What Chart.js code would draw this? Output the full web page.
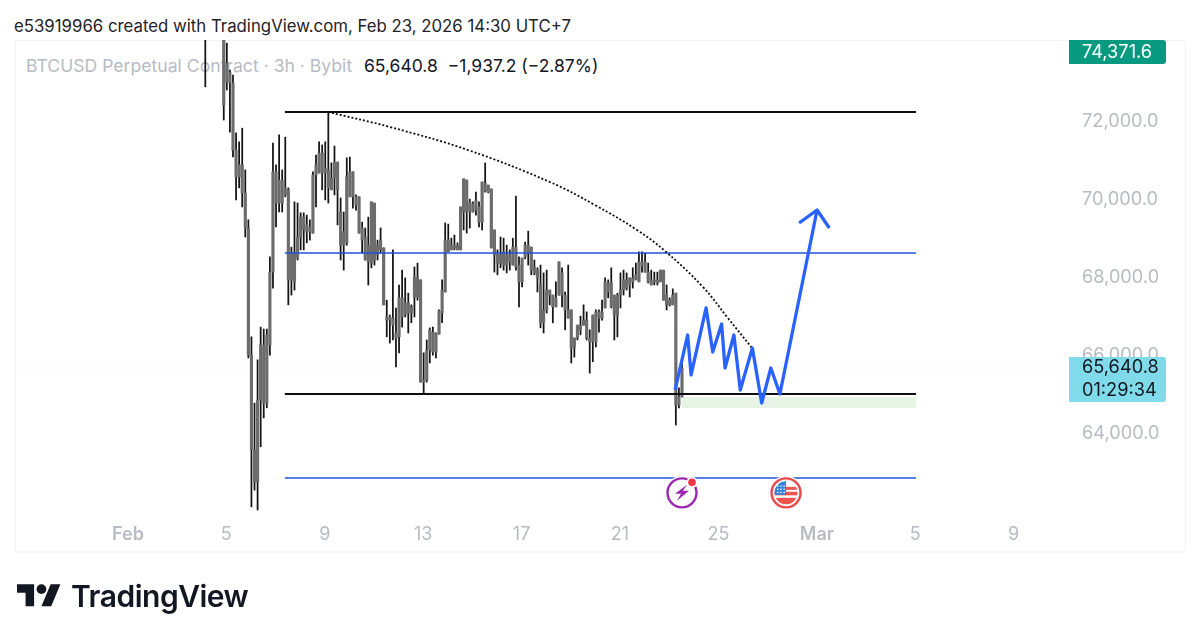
<!DOCTYPE html>
<html>
<head>
<meta charset="utf-8">
<title>BTCUSD Perpetual Contract</title>
<script src="https://cdn.jsdelivr.net/npm/chart.js@4/dist/chart.umd.min.js"></script>
<style>
    html, body { margin: 0; padding: 0; background: #fff; }
    body { width: 1200px; height: 640px; position: relative; overflow: hidden; font-family: Inter, "Liberation Sans", sans-serif; }
    canvas { position: absolute; left: 0; top: 0; }
    .txt { position: absolute; white-space: pre; line-height: 1; }
    #snapshot { left: 14px; top: 18px; font-size: 16.8px; color: #1f2226; }
    #symbol { left: 26px; top: 57px; font-size: 17.6px; color: #b8bbc2; }
    #ohlc { left: 364px; top: 57px; font-size: 17.5px; color: #131722; }
    #brand { left: 71px; top: 581px; font-size: 30px; font-weight: 600; color: #131722; letter-spacing: -0.5px; }
    #logo { position: absolute; left: 17px; top: 584px; }
</style>
</head>
<body>
<div class="txt" id="snapshot">e53919966 created with TradingView.com, Feb 23, 2026 14:30 UTC+7</div>
<div class="txt" id="symbol">BTCUSD Perpetual Contract · 3h · Bybit</div>
<div class="txt" id="ohlc">65,640.8  −1,937.2 (−2.87%)</div>
<canvas id="btcChart" width="1200" height="640"></canvas>
<svg id="logo" width="44" height="23" viewBox="0 4 36 18.5"><path fill="#131722" d="M14 22H7V11H0V4h14v18zM28 22h-8l7.5-18h8L28 22z"/><circle fill="#131722" cx="20" cy="8" r="4"/></svg>
<div class="txt" id="brand">TradingView</div>

<script>
// Bougies 3h, de la plus ancienne à la plus récente (les premières sont au-dessus du cadre)
const wickHighs = [
    75000, 75400, 75500, 75300, 75100, 74900,
    74600, 73970, 73280, 73150, 71670, 71440, 71790, 70720, 69440, 66440,
    64740, 65850, 66690, 66640, 66640, 68490, 71410, 70850, 71620, 70720,
    71560, 70260, 68740, 69900, 69870, 69620, 69620, 69560, 69440, 70670,
    71100, 71440, 71360, 71440, 72210, 70900, 71330, 70920, 70000, 69640,
    71030, 71050, 70670, 70080, 70030, 69380, 69230, 69510, 69900, 69870,
    68920, 69230, 68720, 67380, 67000, 68670, 67180, 67770, 68150, 67950,
    67560, 67260, 68230, 68330, 67900, 66030, 66360, 66670, 66690, 66540,
    67130, 67900, 69360, 69330, 68970, 69050, 68850, 69770, 70490, 70460,
    69970, 69900, 70150, 69900, 70410, 70900, 70330, 70230, 69180, 68670,
    69000, 68970, 68790, 68670, 68970, 70050, 68490, 68460, 68870, 69150,
    68740, 68410, 68210, 68280, 68080, 68150, 67640, 67510, 67850, 68360,
    68210, 67590, 68280, 67130, 66410, 66740, 66970, 67260, 67080, 66620,
    67000, 67130, 67130, 67380, 67950, 67900, 68210, 67510, 67560, 68080,
    68150, 68080, 67950, 68210, 68330, 68620, 68620, 68590, 68330, 68150,
    68100, 68100, 68150, 68150, 67770, 67440, 67670, 67560, 65130, 65770
];
const wickLows = [
    72850, 74400, 74500, 74400, 74300, 74200,
    72000, 72770, 71690, 71050, 69950, 70260, 69770, 69000, 65900, 62080,
    62510, 62000, 63620, 64360, 64620, 65970, 67690, 69260, 69640, 69640,
    70030, 67260, 67510, 67640, 68410, 68670, 68670, 68850, 68920, 69100,
    69770, 70640, 70210, 69950, 69870, 70210, 70080, 69310, 68410, 68150,
    68790, 70030, 69740, 69690, 69100, 68590, 68410, 67770, 68210, 68280,
    68410, 68590, 67260, 66440, 66280, 66360, 65670, 66030, 66690, 66950,
    66540, 66800, 66950, 67380, 65280, 65000, 65280, 65770, 65970, 65900,
    66510, 66800, 67590, 68620, 68670, 68670, 68670, 68670, 69180, 69100,
    69230, 69640, 69560, 69260, 69180, 70150, 70130, 68720, 68100, 68030,
    68210, 68150, 68080, 68150, 68280, 68150, 67210, 67720, 68440, 68280,
    68030, 68030, 67590, 66670, 66540, 67050, 67260, 66800, 67210, 67510,
    67210, 66620, 66920, 65770, 65920, 66360, 66490, 66740, 66360, 65510,
    65800, 66180, 66560, 66870, 67180, 67440, 67180, 66360, 66440, 67180,
    67510, 67640, 67460, 67690, 67900, 67850, 68100, 68100, 67820, 67770,
    67770, 67770, 67850, 67380, 67130, 67230, 67260, 64180, 64620, 64900
];
const bodyHighs = [
    74800, 75200, 75300, 75100, 74900, 74700,
    74500, 73460, 73210, 72950, 71230, 70850, 70850, 70130, 69230, 65970,
    63540, 64820, 66230, 66230, 66490, 68100, 70670, 70670, 70460, 70460,
    70260, 70210, 68590, 68590, 69000, 69510, 69510, 69310, 69260, 70590,
    70850, 71150, 71150, 70770, 70720, 70510, 70920, 70920, 69640, 69130,
    70540, 70670, 70670, 70030, 70030, 69230, 69000, 68790, 69900, 69870,
    68790, 68920, 68720, 66950, 66950, 66920, 66540, 67440, 67440, 67310,
    67310, 67210, 67970, 67970, 67900, 65330, 66100, 66620, 66560, 66540,
    67100, 67640, 68920, 68920, 68790, 68790, 68790, 69770, 70490, 70460,
    69900, 69850, 69950, 69770, 70410, 70380, 70330, 70230, 69180, 68540,
    68540, 68620, 68540, 68540, 68740, 68740, 68280, 68460, 68790, 68790,
    68740, 68230, 68150, 67770, 67130, 67640, 67640, 67510, 67440, 68360,
    68080, 67510, 67130, 67130, 66410, 66740, 66740, 66870, 66870, 66410,
    67000, 67080, 67080, 67080, 67850, 67820, 67820, 67510, 67510, 67640,
    67900, 67900, 67950, 67950, 68030, 68360, 68360, 68360, 68100, 67900,
    67900, 67900, 68150, 68150, 67510, 67380, 67510, 67560, 64900, 65640
];
const bodyLows = [
    74300, 74700, 74800, 74700, 74600, 74500,
    72380, 72970, 72950, 71230, 70540, 70540, 70130, 69230, 65970, 63540,
    62720, 62720, 64820, 64740, 64740, 66230, 68100, 69870, 69870, 69870,
    70080, 67900, 67900, 67850, 68460, 69000, 69180, 69130, 69130, 69100,
    70590, 70640, 70640, 70640, 70260, 70210, 70510, 70210, 68790, 68790,
    68850, 70030, 70030, 69820, 69100, 68920, 68410, 68360, 68330, 68410,
    68540, 68670, 67260, 66870, 66870, 66740, 66410, 66440, 66950, 67000,
    67050, 67050, 67460, 67460, 65280, 65280, 65330, 66100, 66050, 66050,
    66510, 67050, 67590, 68620, 68670, 68720, 68670, 68670, 69640, 69640,
    69640, 69640, 69690, 69380, 69380, 70180, 70150, 68720, 68540, 68330,
    68330, 68280, 68280, 68360, 68280, 68230, 67850, 67850, 68490, 68590,
    68150, 68080, 67950, 66800, 66800, 67130, 67510, 67210, 67210, 67510,
    67510, 67130, 66920, 66150, 66180, 66410, 66620, 66740, 66410, 66310,
    66310, 66310, 66920, 66920, 67180, 67590, 67210, 67000, 67000, 67510,
    67640, 67690, 67770, 67850, 67900, 67850, 68260, 68100, 67850, 67770,
    67850, 67820, 67850, 67380, 67260, 67260, 67260, 64690, 64690, 64900
];

// Jours de février (1 = 1er fév, 29 = 1er mars)
const firstCandleDay = 4.145;
const candlesPerDay = 8;

const yTickValues = [64000, 66000, 68000, 70000, 72000];
const xTickDays = [1, 5, 9, 13, 17, 21, 25, 29, 33, 37];
const xTickLabels = ['Feb', '5', '9', '13', '17', '21', '25', 'Mar', '5', '9'];

// Niveaux tracés
const levelStartDay = 7.38;
const levelEndDay = 33.03;
const blackLevels = [72205, 64974];
const blueLevels = [68590, 62820];
const zoneDays = [23.52, 33.05];
const zoneTop = 64897;
const zoneBottom = 64615;

const arcDays = [9.13, 11.65, 14.82, 18.15, 19.98, 21.69, 22.83, 24.37, 25.35, 26.37];
const arcPrices = [72205, 71820, 71230, 70410, 69820, 69180, 68640, 67720, 66950, 66150];

const pathDays = [23.24, 23.75, 23.89, 24.50, 24.77, 25.13, 25.27, 25.63, 25.89, 26.38, 26.76, 27.13, 27.50, 29.01];
const pathPrices = [65077, 66487, 65462, 67180, 66052, 66769, 65641, 66487, 65077, 66154, 64744, 65641, 64975, 69692];
const arrowDays = [28.28, 29.01, 29.51];
const arrowPrices = [69359, 69692, 69231];

const lastPrice = 65640.8;
const lastPriceLabel = '65,640.8';
const countdownLabel = '01:29:34';
const highPriceLabel = '74,371.6';
const eventDays = [23.52, 27.75];
const eventPrice = 62440;

const candleDays = wickHighs.map((_, i) => firstCandleDay + i / candlesPerDay);
const FONT = 'Inter, "Liberation Sans", sans-serif';

function levelDataset(price, color, width) {
    return {
        type: 'line',
        data: [{ x: levelStartDay, y: price }, { x: levelEndDay, y: price }],
        borderColor: color,
        borderWidth: width,
        pointRadius: 0,
        order: 3
    };
}

function pricePath(days, prices) {
    return days.map((d, i) => ({ x: d, y: prices[i] }));
}

// Cadre, étiquettes de prix et marqueurs d'événements
const overlayPlugin = {
    id: 'overlay',
    beforeDraw(chart) {
        const ctx = chart.ctx;
        ctx.save();
        ctx.strokeStyle = '#f0f3fa';
        ctx.lineWidth = 1;
        ctx.strokeRect(15.5, 40.5, 1170, 511.5);
        ctx.restore();
    },
    afterDraw(chart) {
        const ctx = chart.ctx;
        const xs = chart.scales.x;
        const ys = chart.scales.y;
        const tagLeft = chart.chartArea.right;
        const tagWidth = 97;
        ctx.save();

        // Étiquette du plus haut
        ctx.fillStyle = '#089981';
        ctx.beginPath();
        ctx.roundRect(tagLeft, 40, tagWidth, 24, [0, 3, 3, 0]);
        ctx.fill();
        ctx.font = '18.2px ' + FONT;
        ctx.textBaseline = 'middle';
        ctx.fillStyle = '#ffffff';
        ctx.fillText(highPriceLabel, tagLeft + 13, 52.5);

        // Étiquette du dernier prix
        const lastY = ys.getPixelForValue(lastPrice);
        ctx.fillStyle = '#7fdbe9';
        ctx.beginPath();
        ctx.roundRect(tagLeft, lastY - 11, tagWidth, 45, [0, 3, 3, 0]);
        ctx.fill();
        ctx.fillStyle = '#131722';
        ctx.fillText(lastPriceLabel, tagLeft + 13, lastY);
        ctx.fillText(countdownLabel, tagLeft + 13, lastY + 23);

        // Marqueur éclair
        const ey = ys.getPixelForValue(eventPrice);
        const bx = xs.getPixelForValue(eventDays[0]);
        ctx.fillStyle = '#ffffff';
        ctx.beginPath();
        ctx.arc(bx, ey, 17, 0, Math.PI * 2);
        ctx.fill();
        ctx.strokeStyle = '#9c27b0';
        ctx.lineWidth = 2.4;
        ctx.beginPath();
        ctx.arc(bx, ey, 14.5, 0, Math.PI * 2);
        ctx.stroke();
        ctx.fillStyle = '#9c27b0';
        ctx.beginPath();
        ctx.moveTo(bx + 5, ey - 8);
        ctx.lineTo(bx - 7, ey + 1);
        ctx.lineTo(bx - 1, ey + 1);
        ctx.lineTo(bx - 5, ey + 8);
        ctx.lineTo(bx + 7, ey - 2);
        ctx.lineTo(bx + 1, ey - 2);
        ctx.closePath();
        ctx.fill();
        ctx.fillStyle = '#ffffff';
        ctx.beginPath();
        ctx.arc(bx + 10, ey - 10.5, 5.5, 0, Math.PI * 2);
        ctx.fill();
        ctx.fillStyle = '#f23645';
        ctx.beginPath();
        ctx.arc(bx + 10, ey - 10.5, 3.8, 0, Math.PI * 2);
        ctx.fill();

        // Marqueur drapeau US
        const fx = xs.getPixelForValue(eventDays[1]);
        ctx.fillStyle = '#ffffff';
        ctx.beginPath();
        ctx.arc(fx, ey, 17, 0, Math.PI * 2);
        ctx.fill();
        ctx.strokeStyle = '#e84a4a';
        ctx.lineWidth = 2.4;
        ctx.beginPath();
        ctx.arc(fx, ey, 14.5, 0, Math.PI * 2);
        ctx.stroke();
        ctx.save();
        ctx.beginPath();
        ctx.arc(fx, ey, 11.5, 0, Math.PI * 2);
        ctx.clip();
        ctx.fillStyle = '#ef5350';
        ctx.fillRect(fx - 12, ey - 6, 24, 3);
        ctx.fillRect(fx - 12, ey - 1, 24, 3.5);
        ctx.fillRect(fx - 12, ey + 5, 24, 7);
        ctx.fillStyle = '#2f80d8';
        ctx.fillRect(fx - 12, ey - 12, 12, 14);
        ctx.fillStyle = '#ffffff';
        for (let r = 0; r < 3; r++) {
            for (let c = 0; c < 3; c++) {
                ctx.fillRect(fx - 9 + c * 3.2, ey - 7.5 + r * 3.2, 1.4, 1.4);
            }
        }
        ctx.restore();

        ctx.restore();
    }
};

document.addEventListener('DOMContentLoaded', function() {
    const ctx = document.getElementById('btcChart').getContext('2d');
    new Chart(ctx, {
        data: {
            datasets: [
                {
                    type: 'bar',
                    grouped: false,
                    barThickness: 2.5,
                    backgroundColor: '#6c6c6c',
                    data: candleDays.map((d, i) => ({ x: d, y: [bodyLows[i], bodyHighs[i]] })),
                    order: 4
                },
                {
                    type: 'bar',
                    grouped: false,
                    barThickness: 1.1,
                    backgroundColor: '#141414',
                    data: candleDays.map((d, i) => ({ x: d, y: [wickLows[i], wickHighs[i]] })),
                    order: 5
                },
                {
                    type: 'line',
                    data: zoneDays.map(d => ({ x: d, y: zoneTop })),
                    borderWidth: 0,
                    pointRadius: 0,
                    backgroundColor: '#e7f3e5',
                    fill: { value: zoneBottom },
                    order: 6
                },
                {
                    type: 'line',
                    data: [{ x: -4, y: lastPrice }, { x: 40, y: lastPrice }],
                    borderColor: '#ececec',
                    borderWidth: 1,
                    borderDash: [1, 3],
                    pointRadius: 0,
                    order: 7
                },
                levelDataset(blackLevels[0], '#0c0e12', 1.8),
                levelDataset(blackLevels[1], '#0c0e12', 1.8),
                levelDataset(blueLevels[0], '#1f55d8', 1.6),
                levelDataset(blueLevels[1], '#1f55d8', 1.6),
                {
                    type: 'line',
                    data: pricePath(arcDays, arcPrices),
                    borderColor: '#0c0e12',
                    borderWidth: 1.8,
                    borderDash: [2, 2],
                    tension: 0.4,
                    pointRadius: 0,
                    order: 2
                },
                {
                    type: 'line',
                    data: pricePath(pathDays, pathPrices),
                    borderColor: '#2962ff',
                    borderWidth: 3.3,
                    borderJoinStyle: 'round',
                    pointRadius: 0,
                    order: 1
                },
                {
                    type: 'line',
                    data: pricePath(arrowDays, arrowPrices),
                    borderColor: '#2962ff',
                    borderWidth: 3.3,
                    borderJoinStyle: 'round',
                    pointRadius: 0,
                    order: 1
                }
            ]
        },
        options: {
            responsive: false,
            animation: false,
            layout: { padding: { left: 15, top: 40, right: 15, bottom: 88 } },
            plugins: { legend: { display: false }, tooltip: { enabled: false } },
            scales: {
                x: {
                    type: 'linear',
                    offset: false,
                    min: -3.59,
                    max: 39.25,
                    grid: { display: false, drawTicks: false },
                    border: { display: false },
                    afterFit: scale => { scale.height = 36; },
                    afterBuildTicks: scale => { scale.ticks = xTickDays.map(v => ({ value: v })); },
                    ticks: {
                        autoSkip: false,
                        maxRotation: 0,
                        padding: 8,
                        color: '#b8bbc2',
                        font: c => ({ family: FONT, size: 18, weight: c.index === 0 || c.index === 7 ? '600' : '400' }),
                        callback: (value, index) => xTickLabels[index]
                    }
                },
                y: {
                    position: 'right',
                    min: 61846,
                    max: 74051,
                    grid: { display: false, drawTicks: false },
                    border: { display: false },
                    afterFit: scale => { scale.width = 116; },
                    afterBuildTicks: scale => { scale.ticks = yTickValues.map(v => ({ value: v })); },
                    ticks: {
                        padding: 13,
                        labelOffset: 1.5,
                        color: '#b8bbc2',
                        font: { family: FONT, size: 18.2 },
                        callback: value => value.toLocaleString('en-US') + '.0'
                    }
                }
            }
        },
        plugins: [overlayPlugin]
    });
});
</script>
</body>
</html>
